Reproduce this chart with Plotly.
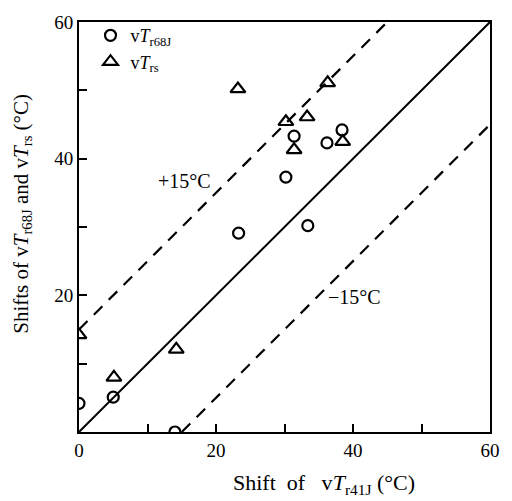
import plotly.graph_objects as go

# Data
x_r68j = [0, 5, 14, 23.3, 30.2, 31.4, 33.4, 36.2, 38.4]
y_r68j = [4.2, 5.1, 0, 29.1, 37.3, 43.3, 30.2, 42.3, 44.2]
x_rs = [0, 5.1, 14.2, 23.2, 30.2, 31.4, 33.3, 36.3, 38.5]
y_rs = [14.2, 8.0, 12.1, 50.2, 45.4, 41.3, 46.1, 51.1, 42.5]

line_x = [0, 60]
line_y = [0, 60]
plus_x = [0, 45]
plus_y = [15, 60]
minus_x = [15, 60]
minus_y = [0, 45]

tick_vals = [0, 10, 20, 30, 40, 50, 60]
x_tick_text = ["0", "", "20", "", "40", "", "60"]
y_tick_text = ["", "", "20", "", "40", "", "60"]

FONT = "Liberation Serif, Times New Roman, serif"

fig = go.Figure()
fig.add_trace(go.Scatter(x=line_x, y=line_y, mode="lines",
                         line=dict(color="black", width=2), showlegend=False, hoverinfo="skip"))
fig.add_trace(go.Scatter(x=plus_x, y=plus_y, mode="lines",
                         line=dict(color="black", width=2.2, dash="12px,9px"), showlegend=False, hoverinfo="skip"))
fig.add_trace(go.Scatter(x=minus_x, y=minus_y, mode="lines",
                         line=dict(color="black", width=2.2, dash="12px,9px"), showlegend=False, hoverinfo="skip"))
fig.add_trace(go.Scatter(x=x_r68j, y=y_r68j, mode="markers", name="v<i>T</i><sub>r68J</sub>",
                         marker=dict(symbol="circle-open", size=11, color="black", line=dict(width=2.2))))
fig.add_trace(go.Scatter(x=x_rs, y=y_rs, mode="markers", name="v<i>T</i><sub>rs</sub>",
                         marker=dict(symbol="triangle-up-open", size=13, color="black", line=dict(width=2.2))))

fig.add_annotation(x=15.4, y=36.8, text="+15°C", showarrow=False,
                   font=dict(family=FONT, size=20, color="black"))
fig.add_annotation(x=40.2, y=19.8, text="−15°C", showarrow=False,
                   font=dict(family=FONT, size=20, color="black"))

# axis titles (positioned as in the reference)
fig.add_annotation(xref="paper", yref="paper", x=0.596, y=-0.128, yanchor="middle",
                   text="Shift&nbsp; of&nbsp;&nbsp; v<i>T</i><sub>r41J</sub>&nbsp;(°C)", showarrow=False,
                   font=dict(family=FONT, size=22, color="black"))
fig.add_annotation(xref="paper", yref="paper", x=-0.139, y=0.532, xanchor="center", yanchor="middle",
                   textangle=-90,
                   text="Shifts of v<i>T</i><sub>r68J</sub> and v<i>T</i><sub>rs</sub> (°C)", showarrow=False,
                   font=dict(family=FONT, size=21, color="black"))

axis_common = dict(range=[0, 60], tickvals=tick_vals, ticks="inside", ticklen=8,
                   tickwidth=2, tickcolor="black", showgrid=False, zeroline=False,
                   showline=True, linecolor="black", linewidth=2, mirror=True,
                   tickfont=dict(family=FONT, size=19, color="black"))

fig.update_xaxes(**axis_common, ticktext=x_tick_text)
fig.update_yaxes(**axis_common, ticktext=y_tick_text)

fig.update_layout(
    width=512, height=501,
    margin=dict(l=71, r=30, t=14, b=77, autoexpand=False),
    plot_bgcolor="white", paper_bgcolor="white",
    legend=dict(x=0.028, y=1.012, xanchor="left", yanchor="top", bgcolor="rgba(0,0,0,0)",
                font=dict(family=FONT, size=18, color="black"), itemwidth=30, tracegroupgap=0),
    font=dict(family=FONT, color="black"),
)

fig.write_html("out.html")
